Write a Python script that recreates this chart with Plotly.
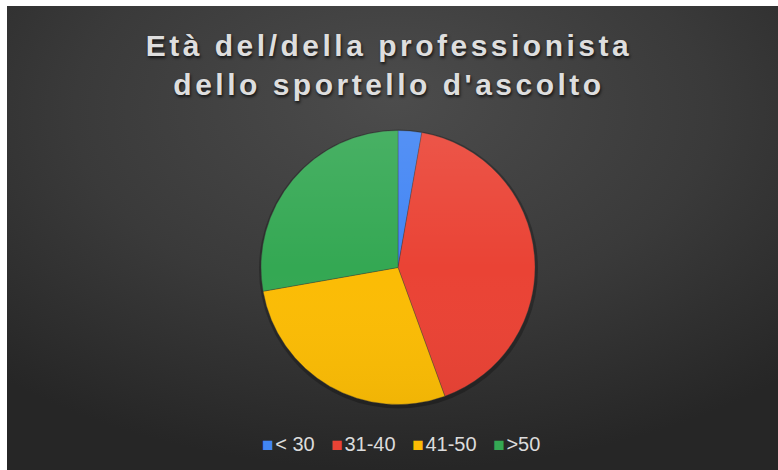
import plotly.graph_objects as go
import urllib.parse

categories = ["&lt; 30", "31-40", "41-50", ">50"]
values = [1, 15, 10, 10]
colors = ["#4285F4", "#EA4335", "#FBBC05", "#34A853"]
title_lines = ["Età del/della professionista", "dello sportello d'ascolto"]

W, H = 778, 470

svg = (
    "<svg xmlns='http://www.w3.org/2000/svg' width='771' height='464' viewBox='0 0 771 464' preserveAspectRatio='none'>"
    "<defs><radialGradient id='g' cx='0.5' cy='0.25' r='0.75' fx='0.5' fy='0.2'>"
    "<stop offset='0' stop-color='#4c4c4c'/>"
    "<stop offset='0.55' stop-color='#3a3a3a'/>"
    "<stop offset='1' stop-color='#262626'/>"
    "</radialGradient></defs>"
    "<rect width='771' height='464' fill='url(#g)'/></svg>"
)
bg_uri = "data:image/svg+xml;charset=utf-8," + urllib.parse.quote(svg)

sheen = (
    "<svg xmlns='http://www.w3.org/2000/svg' width='200' height='200' viewBox='0 0 200 200'>"
    "<defs><linearGradient id='s' x1='0' y1='0' x2='0' y2='1'>"
    "<stop offset='0' stop-color='#ffffff' stop-opacity='0.10'/>"
    "<stop offset='0.5' stop-color='#ffffff' stop-opacity='0.0'/>"
    "<stop offset='1' stop-color='#000000' stop-opacity='0.04'/>"
    "</linearGradient></defs>"
    "<circle cx='100' cy='100' r='100' fill='url(#s)'/></svg>"
)
sheen_uri = "data:image/svg+xml;charset=utf-8," + urllib.parse.quote(sheen)

cx, cy, r = 398, 267.5, 137

fig = go.Figure()
fig.add_trace(go.Pie(
    labels=categories,
    values=values,
    sort=False,
    direction="clockwise",
    rotation=0,
    textinfo="none",
    hoverinfo="label+value+percent",
    showlegend=False,
    marker=dict(colors=colors, line=dict(color="rgba(60,60,60,0.6)", width=0.6)),
    domain=dict(x=[(cx - r) / W, (cx + r) / W], y=[(H - cy - r) / H, (H - cy + r) / H]),
))

legend_text = "&nbsp;&nbsp;&nbsp;".join(
    f"<span style='color:{c};font-size:19px'>■</span>&#8202;{lab}"
    for lab, c in zip(categories, colors)
)

fig.update_layout(
    width=W, height=H,
    margin=dict(l=0, r=0, t=0, b=0),
    paper_bgcolor="white",
    plot_bgcolor="white",
    images=[
        dict(
            source=bg_uri, xref="paper", yref="paper",
            x=7 / W, y=1 - 6 / H, sizex=771 / W, sizey=464 / H,
            xanchor="left", yanchor="top", sizing="stretch", layer="below",
        ),
        dict(
            source=sheen_uri, xref="paper", yref="paper",
            x=(cx - r) / W, y=(H - cy + r) / H, sizex=2 * r / W, sizey=2 * r / H,
            xanchor="left", yanchor="top", sizing="stretch", layer="above",
        ),
    ],
    shapes=[dict(
        type="circle", xref="paper", yref="paper", layer="below",
        x0=(cx - r - 2) / W, x1=(cx + r + 3) / W,
        y0=(H - cy - r - 4) / H, y1=(H - cy + r + 1) / H,
        fillcolor="rgba(0,0,0,0.25)", line=dict(width=0),
    )],
    title=dict(
        text="<br>".join(title_lines),
        x=0.5, xanchor="center",
        y=1 - 56 / H, yanchor="middle",
        font=dict(family="Liberation Sans, Arial, sans-serif", size=30, color="#dedede",
                  weight="bold", shadow="1px 2px 3px rgba(0,0,0,0.7)"),
    ),
    showlegend=False,
    annotations=[dict(
        text=legend_text, xref="paper", yref="paper",
        x=401 / W, y=(H - 444) / H, xanchor="center", yanchor="middle",
        showarrow=False,
        font=dict(family="Liberation Sans, Arial, sans-serif", size=20, color="#dcdcdc"),
    )],
)

post = (
    "document.body.style.margin='0';"
    "var gd=document.getElementById('{plot_id}');"
    "function ls(){gd.querySelectorAll('.gtitle').forEach(function(e){e.style.letterSpacing='3.5px';});}"
    "ls();setTimeout(ls,50);if(gd.on){gd.on('plotly_afterplot',ls);}"
)

fig.write_html("out.html", post_script=post, config={"displayModeBar": False})
